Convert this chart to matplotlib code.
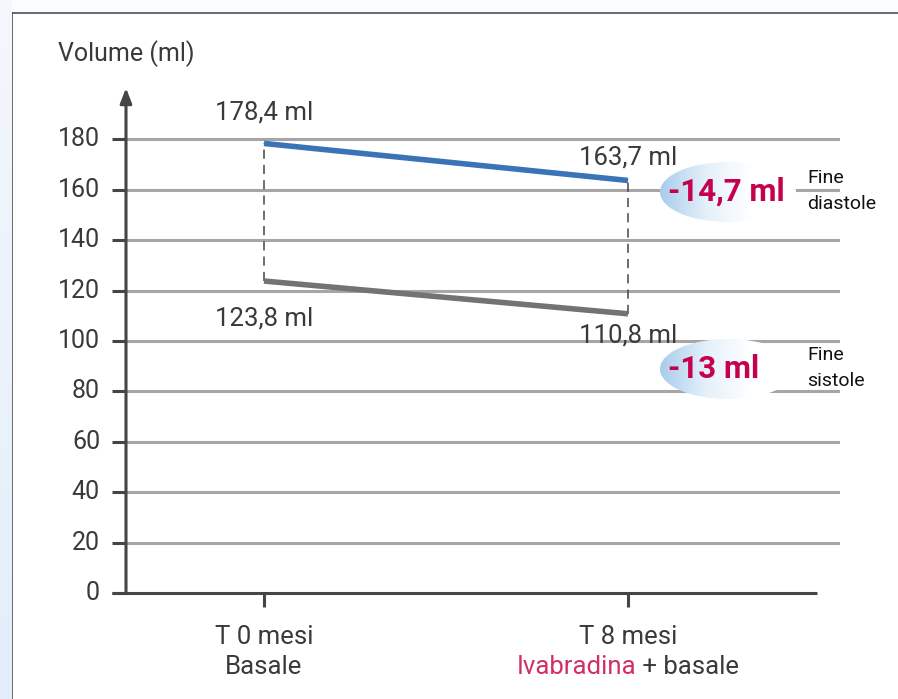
import matplotlib
matplotlib.use("Agg")
import matplotlib.pyplot as plt
import numpy as np
from matplotlib.patches import Ellipse
from matplotlib.colors import LinearSegmentedColormap

plt.rcParams['font.family'] = ['Roboto', 'DejaVu Sans']

# data
timepoints = [0, 1]
diastole = [178.4, 163.7]
sistole = [123.8, 110.8]
diastole_labels = ["178,4 ml", "163,7 ml"]
sistole_labels = ["123,8 ml", "110,8 ml"]
yticks = [0, 20, 40, 60, 80, 100, 120, 140, 160, 180]
delta_diastole = "-14,7 ml"
delta_sistole = "-13 ml"

TEXT = '#3a3a3a'
GRID = '#a6a6a6'
AXIS = '#454545'
BLUE = '#3a74b6'
GREY = '#737373'
CRIMSON = '#c5004d'
PINK = '#d23064'

W, H = 898, 699
fig = plt.figure(figsize=(W / 100, H / 100), dpi=100, facecolor='#fbfcfd')

# light blue strip on the left edge
strip = fig.add_axes([0, 0, 12 / W, 1])
strip.imshow(np.linspace(0, 1, 100).reshape(-1, 1), aspect='auto',
             cmap=LinearSegmentedColormap.from_list('s', ['#f4f7fc', '#e3eefa']),
             origin='upper')
strip.axis('off')

# page frame
frame = fig.add_axes([0, 0, 1, 1], zorder=-1)
frame.set_xlim(0, W)
frame.set_ylim(H, 0)
frame.axis('off')
frame.add_patch(plt.Rectangle((12, 13), W, H, facecolor='white', edgecolor='none'))
frame.plot([12, W], [13, 13], color='#505050', lw=1.2)
frame.plot([12, 12], [13, H], color='#505050', lw=1.2)

# plotting area: y=0 at px 593, 2.52 px per ml; T0 at px 264, T8 at px 628
x0_px, y0_px, ppu_y, ppu_x = 126, 593, 2.52, 364
ymax = 200
xmin = -(264 - x0_px) / ppu_x
xmax = (840 - 264) / ppu_x
ax = fig.add_axes([x0_px / W, (H - y0_px) / H, (840 - x0_px) / W, ymax * ppu_y / H])
ax.set_facecolor('none')
ax.set_xlim(xmin, xmax)
ax.set_ylim(0, ymax)
for s in ax.spines.values():
    s.set_visible(False)
ax.set_xticks([])
ax.set_yticks([])

# gridlines
for v in yticks[1:]:
    ax.plot([xmin, xmax], [v, v], color=GRID, lw=2.2, zorder=1, solid_capstyle='butt')

# axes lines, ticks and arrow
ax.plot([xmin - 14 / ppu_x, (817 - 264) / ppu_x], [0, 0], color=AXIS, lw=2.2,
        clip_on=False, zorder=5, solid_capstyle='butt')
ax.annotate('', xy=(xmin, (593 - 88) / ppu_y), xytext=(xmin, 0),
            arrowprops=dict(arrowstyle='-|>,head_length=0.9,head_width=0.35',
                            color=AXIS, lw=2.2, shrinkA=0, shrinkB=0),
            annotation_clip=False, zorder=5)
for v in yticks:
    ax.plot([xmin - 14 / ppu_x, xmin], [v, v], color=AXIS, lw=2.2, clip_on=False,
            zorder=5, solid_capstyle='butt')
    ax.text(xmin - 26 / ppu_x, v, str(v), ha='right', va='center', fontsize=18,
            color=TEXT)
for t in timepoints:
    ax.plot([t, t], [0, -14 / ppu_y], color=AXIS, lw=2.2, clip_on=False,
            solid_capstyle='butt')

ax.text(xmin - 68 / ppu_x, (593 - 54) / ppu_y, "Volume (ml)", ha='left', va='center',
        fontsize=18, color=TEXT)

# dashed connectors
for t, a, b in zip(timepoints, diastole, sistole):
    ax.plot([t, t], [b, a], color=AXIS, lw=1.1, linestyle=(0, (6, 4)), zorder=2)

# series
ax.plot(timepoints, diastole, color=BLUE, lw=4, solid_capstyle='butt', zorder=4)
ax.plot(timepoints, sistole, color=GREY, lw=4, solid_capstyle='butt', zorder=4)

# value labels
for t, v, lab, dy in zip(timepoints, diastole, diastole_labels, [31, 23]):
    ax.annotate(lab, (t, v), xytext=(0, dy), textcoords='offset pixels',
                ha='center', va='center', fontsize=18.5, color=TEXT)
for t, v, lab, dy in zip(timepoints, sistole, sistole_labels, [-37, -22]):
    ax.annotate(lab, (t, v), xytext=(0, dy), textcoords='offset pixels',
                ha='center', va='center', fontsize=18.5, color=TEXT)

# gradient ellipses with the changes
grad = LinearSegmentedColormap.from_list('g', ['#a9cdec', '#e4f0fa', '#ffffff', '#ffffff'])
for yc, txt, kind in [((593 - 192) / ppu_y, delta_diastole, "diastole"),
                      ((593 - 369) / ppu_y, delta_sistole, "sistole")]:
    xc = (728 - 264) / ppu_x
    ew, eh = 136 / ppu_x, 60 / ppu_y
    ell = Ellipse((xc, yc), ew, eh, facecolor='none', edgecolor='none')
    ax.add_patch(ell)
    im = ax.imshow(np.linspace(0, 1, 200).reshape(1, -1), cmap=grad, aspect='auto',
                   extent=[xc - ew / 2, xc + ew / 2, yc - eh / 2, yc + eh / 2],
                   zorder=3, interpolation='bilinear')
    im.set_clip_path(ell)
    ax.text((668 - 264) / ppu_x, yc, txt, ha='left', va='center', fontsize=22.5,
            fontweight='bold', color=CRIMSON, zorder=6)
    ax.text((807 - 264) / ppu_x, yc + 14 / ppu_y, "Fine", ha='left', va='center',
            fontsize=14, color='#111111', zorder=6, clip_on=False)
    ax.text((807 - 264) / ppu_x, yc - 12 / ppu_y, kind, ha='left', va='center',
            fontsize=14, color='#111111', zorder=6, clip_on=False)

ax.set_xlim(xmin, xmax)
ax.set_ylim(0, ymax)

# category labels
ax.text(0, -44 / ppu_y, "T 0 mesi", ha='center', va='center', fontsize=18.5, color=TEXT)
ax.text(0, -74 / ppu_y, "Basale", ha='center', va='center', fontsize=18.5, color=TEXT)
ax.text(1, -44 / ppu_y, "T 8 mesi", ha='center', va='center', fontsize=18.5, color=TEXT)
t1 = ax.text(1, -74 / ppu_y, "Ivabradina", ha='left', va='center', fontsize=18.5, color=PINK)
t2 = ax.text(1, -74 / ppu_y, " + basale", ha='left', va='center', fontsize=18.5, color=TEXT)
fig.canvas.draw()
r = fig.canvas.get_renderer()
w1 = t1.get_window_extent(r).width / ppu_x
w2 = t2.get_window_extent(r).width / ppu_x
t1.set_x(1 - (w1 + w2) / 2)
t2.set_x(1 - (w1 + w2) / 2 + w1)

fig.savefig('out.png', dpi=100, facecolor=fig.get_facecolor())
